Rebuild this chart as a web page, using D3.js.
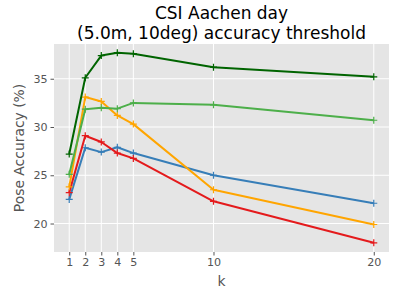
<!DOCTYPE html>
<html>
<head>
<meta charset="utf-8">
<script src="https://cdn.jsdelivr.net/npm/d3@7"></script>
<style>
  body { margin: 0; background: white; }
  svg { display: block; font-family: "DejaVu Sans", sans-serif; }
</style>
</head>
<body>
<div id="chart"></div>
<script>
// k values and accuracies
var kValues = [1, 2, 3, 4, 5, 10, 20];
var xTicks = [1, 2, 3, 4, 5, 10, 20];
var yTicks = [20, 25, 30, 35];

var darkGreen = [27.2, 35.1, 37.4, 37.7, 37.6, 36.2, 35.2];
var lightGreen = [25.1, 31.85, 32.0, 31.9, 32.5, 32.3, 30.7];
var orange = [23.8, 33.1, 32.65, 31.2, 30.3, 23.5, 19.9];
var red = [23.2, 29.1, 28.45, 27.3, 26.75, 22.3, 18.0];
var blue = [22.5, 27.85, 27.4, 27.9, 27.3, 25.0, 22.1];

var seriesList = [
  {values: blue, color: "#377eb8"},
  {values: red, color: "#e41a1c"},
  {values: orange, color: "#ffa500"},
  {values: lightGreen, color: "#4daf4a"},
  {values: darkGreen, color: "#006400"}
];

var width = 400, height = 288;
var margin = {top: 44, right: 11, bottom: 36, left: 54};

var svg = d3.select("#chart").append("svg")
  .attr("width", width)
  .attr("height", height);

var x = d3.scaleLinear()
  .domain([0.05, 20.95])
  .range([margin.left, width - margin.right]);

var y = d3.scaleLinear()
  .domain([17.05, 38.6])
  .range([height - margin.bottom, margin.top]);

// gray panel
svg.append("rect")
  .attr("x", margin.left)
  .attr("y", margin.top)
  .attr("width", width - margin.left - margin.right)
  .attr("height", height - margin.top - margin.bottom)
  .style("fill", "#e5e5e5");

// grid lines
svg.append("g").selectAll("line")
  .data(xTicks)
  .enter().append("line")
    .attr("x1", function(d) { return x(d); })
    .attr("x2", function(d) { return x(d); })
    .attr("y1", margin.top)
    .attr("y2", height - margin.bottom)
    .style("stroke", "white")
    .style("stroke-width", 1);

svg.append("g").selectAll("line")
  .data(yTicks)
  .enter().append("line")
    .attr("x1", margin.left)
    .attr("x2", width - margin.right)
    .attr("y1", function(d) { return y(d); })
    .attr("y2", function(d) { return y(d); })
    .style("stroke", "white")
    .style("stroke-width", 1);

// axes
var xAxis = svg.append("g")
  .attr("transform", "translate(0," + (height - margin.bottom) + ")")
  .call(d3.axisBottom(x).tickValues(xTicks).tickSize(3.5).tickPadding(3));

var yAxis = svg.append("g")
  .attr("transform", "translate(" + margin.left + ",0)")
  .call(d3.axisLeft(y).tickValues(yTicks).tickSize(3.5).tickPadding(3));

[xAxis, yAxis].forEach(function(a) {
  a.select(".domain").remove();
  a.selectAll("line").style("stroke", "#555");
  a.selectAll("text")
    .style("fill", "#555")
    .style("font-size", "11.1px")
    .style("font-family", "DejaVu Sans");
});

// lines and + markers
var line = d3.line()
  .x(function(d, i) { return x(kValues[i]); })
  .y(function(d) { return y(d); });

seriesList.forEach(function(s) {
  svg.append("path")
    .datum(s.values)
    .attr("d", line)
    .style("fill", "none")
    .style("stroke", s.color)
    .style("stroke-width", 2)
    .style("stroke-linejoin", "round");

  svg.append("g").selectAll("path")
    .data(s.values)
    .enter().append("path")
      .attr("d", function(d, i) {
        var px = x(kValues[i]), py = y(d), r = 3.5;
        return "M" + (px - r) + "," + py + "H" + (px + r) +
               "M" + px + "," + (py - r) + "V" + (py + r);
      })
      .style("stroke", s.color)
      .style("stroke-width", 1.2);
});

// title, two lines
var titleX = (margin.left + width - margin.right) / 2;
svg.append("text")
  .attr("x", titleX)
  .attr("y", 18.5)
  .attr("text-anchor", "middle")
  .style("font-size", "17px")
  .style("fill", "black")
  .text("CSI Aachen day");
svg.append("text")
  .attr("x", titleX)
  .attr("y", 39)
  .attr("text-anchor", "middle")
  .style("font-size", "17px")
  .style("fill", "black")
  .text("(5.0m, 10deg) accuracy threshold");

// axis labels
svg.append("text")
  .attr("x", (margin.left + width - margin.right) / 2)
  .attr("y", 286)
  .attr("text-anchor", "middle")
  .style("font-size", "13.9px")
  .style("fill", "#555")
  .text("k");

svg.append("text")
  .attr("transform", "translate(24," + ((margin.top + height - margin.bottom) / 2) + ") rotate(-90)")
  .attr("text-anchor", "middle")
  .style("font-size", "13.9px")
  .style("fill", "#555")
  .text("Pose Accuracy (%)");
</script>
</body>
</html>
